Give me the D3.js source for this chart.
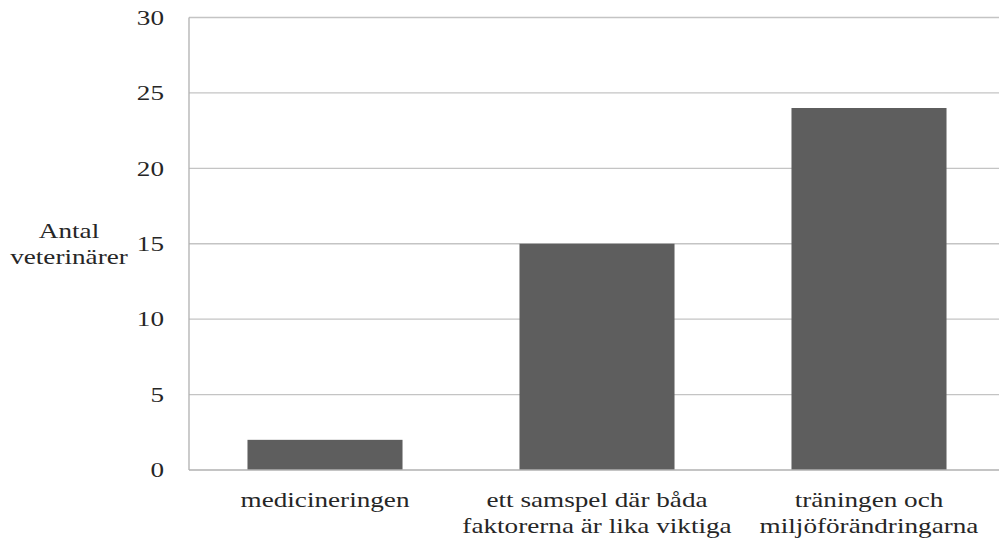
<!DOCTYPE html>
<html>
<head>
<meta charset="utf-8">
<script src="https://cdn.jsdelivr.net/npm/d3@7"></script>
<style>
  html, body { margin: 0; padding: 0; background: #fff; }
  svg { display: block; }
</style>
</head>
<body>
<svg id="chart" width="999" height="541"></svg>
<script>
const categories = ["medicineringen", "ett samspel där båda faktorerna är lika viktiga", "träningen och miljöförändringarna"];
const categoryLines = [["medicineringen"], ["ett samspel där båda", "faktorerna är lika viktiga"], ["träningen och", "miljöförändringarna"]];
const values = [2, 15, 24];
const yTicks = [0, 5, 10, 15, 20, 25, 30];
const yTitleLines = ["Antal", "veterinärer"];

(function () {
const svg = d3.select("#chart");
const plotLeft = 189, plotRight = 1005, plotTop = 17.5, plotBottom = 470;
const fontSize = 22, stretch = 1.235;
const fontFamily = "'Liberation Serif', 'Times New Roman', Tinos, 'DejaVu Serif', serif";

const x = d3.scaleBand().domain(categories).range([plotLeft, plotRight]).paddingInner(0.43).paddingOuter(0.215);
const y = d3.scaleLinear().domain([0, 30]).range([plotBottom, plotTop]);

// gridlines
svg.append("g").selectAll("line").data(yTicks.filter(d => d > 0)).join("line")
  .attr("x1", plotLeft).attr("x2", plotRight)
  .attr("y1", d => y(d)).attr("y2", d => y(d))
  .attr("stroke", "#c4c4c4").attr("stroke-width", 1.3);

// bars
svg.append("g").selectAll("rect").data(values).join("rect")
  .attr("x", (d, i) => x(categories[i]))
  .attr("y", d => y(d))
  .attr("width", x.bandwidth())
  .attr("height", d => y(0) - y(d))
  .attr("fill", "#5e5e5e");

// axes lines
svg.append("line").attr("x1", plotLeft).attr("x2", plotLeft).attr("y1", plotTop).attr("y2", plotBottom)
  .attr("stroke", "#b0b0b0").attr("stroke-width", 1.3);
svg.append("line").attr("x1", plotLeft).attr("x2", plotRight).attr("y1", plotBottom).attr("y2", plotBottom)
  .attr("stroke", "#b0b0b0").attr("stroke-width", 1.3);

function styleText(sel) {
  sel.attr("font-family", fontFamily).attr("font-size", fontSize).attr("fill", "#262626");
}

// y tick labels
svg.append("g").selectAll("text").data(yTicks).join("text")
  .attr("transform", d => `translate(164,${y(d)}) scale(${stretch},1)`)
  .attr("text-anchor", "end")
  .attr("dy", "0.33em")
  .call(styleText)
  .text(d => d);

// x category labels
const xl = svg.append("g").selectAll("g").data(categories).join("g");
xl.each(function (c, i) {
  const cx = x(c) + x.bandwidth() / 2;
  d3.select(this).selectAll("text").data(categoryLines[i]).join("text")
    .attr("transform", (t, j) => `translate(${cx},${507 + j * 26}) scale(${stretch},1)`)
    .attr("text-anchor", "middle")
    .call(styleText)
    .text(t => t);
});

// y title
svg.append("g").selectAll("text").data(yTitleLines).join("text")
  .attr("transform", (t, j) => `translate(69,${238 + j * 26}) scale(${stretch},1)`)
  .attr("text-anchor", "middle")
  .call(styleText)
  .text(t => t);
})();
</script>
</body>
</html>
